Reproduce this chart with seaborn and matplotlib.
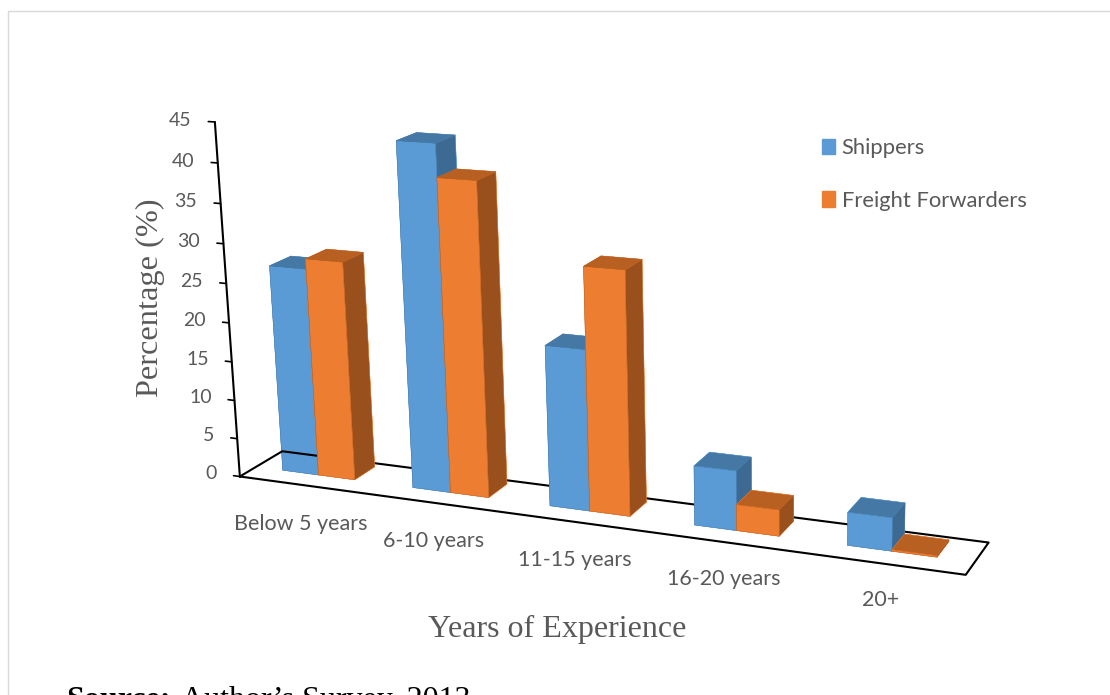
import numpy as np
import pandas as pd
import matplotlib
matplotlib.use("Agg")
import matplotlib.pyplot as plt
from matplotlib.patches import Patch
import seaborn as sns

categories = ["Below 5 years", "6-10 years", "11-15 years", "16-20 years", "20+"]
shippers = [26.6, 43.3, 20, 7.3, 4]
forwarders = [27.9, 39.2, 30, 3.2, 0.2]
yticks = [0, 5, 10, 15, 20, 25, 30, 35, 40, 45]

df = pd.DataFrame({"years": categories, "Shippers": shippers, "Freight Forwarders": forwarders})

sns.set_theme(style="white")
plt.rcParams["font.family"] = ["Lato", "DejaVu Sans"]

blue = sns.color_palette(["#5B9BD5", "#3D6A92", "#4678A6"])
orange = sns.color_palette(["#ED7D31", "#9A501C", "#B85F22"])


def face_colors(pal):
    # bottom, top, front, back, left, right
    return [pal[0], pal[2], pal[0], pal[0], pal[1], pal[1]]


fig = plt.figure(figsize=(11.10, 6.95), dpi=100)
ax = fig.add_axes([-0.0279, -0.0857, 1.1, 1.2], projection="3d")
ax.patch.set_alpha(0)
ax.set_proj_type("persp", focal_length=0.5)
ax.view_init(elev=16, azim=-66, roll=1.4)
ax.set_box_aspect((5, 0.55, 2.43), zoom=1.035)
ax.set_xlim(0, 5)
ax.set_ylim(0, 1)
ax.set_zlim(0, 45)
ax.set_axis_off()

w = 0.28
d = 0.5
for i, row in df.iterrows():
    b = np.array(face_colors(blue))
    o = np.array(face_colors(orange))
    ax.bar3d(i + 0.21, 0.38, 0, w, d, row["Shippers"], color=b, edgecolor=np.repeat(b, 4, axis=0), linewidth=0.3, shade=False, zsort="max")
    ax.bar3d(i + 0.21 + w, 0.38, 0, w, d, row["Freight Forwarders"], color=o, edgecolor=np.repeat(o, 4, axis=0), linewidth=0.3, shade=False, zsort="max")

# floor outline and value axis
ax.plot([0, 5, 5, 0, 0], [0, 0, 1, 1, 0], [0, 0, 0, 0, 0], color="black", lw=1.5)
ax.plot([0, 0], [0, 0], [0, 45], color="black", lw=1.5)
for t in yticks:
    ax.plot([-0.05, 0], [0, 0], [t, t], color="black", lw=1.2)
    ax.text(-0.18, 0, t, str(t), ha="right", va="center", fontsize=14, color="#595959")
# labels sit a little off the floor line, same as the excel chart
for i, c in enumerate(categories):
    ax.text(i * 0.955 + 0.85, -1.15, 0.2 * i, c, ha="center", va="center", fontsize=15.5, color="#595959")

handles = [Patch(color="#5B9BD5", label="Shippers"), Patch(color="#ED7D31", label="Freight Forwarders")]
fig.legend(handles=handles, loc="upper left", bbox_to_anchor=(0.7227, 0.83), frameon=False,
           fontsize=15.8, labelspacing=1.5, handlelength=0.6, handleheight=0.7, handletextpad=0.3,
           labelcolor="#595959")

fig.text(0.502, 0.094, "Years of Experience", family="Liberation Serif", fontsize=23, color="#595959", ha="center", va="center")
fig.text(0.1355, 0.571, "Percentage (%)", family="Liberation Serif", fontsize=23.3, color="#595959", rotation=90, ha="center", va="center")
fig.text(0.06, -0.008, "Source:", family="Liberation Serif", fontsize=23, weight="bold", color="black", ha="left", va="center")
fig.text(0.163, -0.008, "Author\u2019s Survey, 2013", family="Liberation Serif", fontsize=23, color="black", ha="left", va="center")

fig.add_artist(plt.Line2D([0.007, 0.007, 1], [0, 0.984, 0.984], color="#D9D9D9", lw=1))
fig.savefig("out.png", dpi=100)
